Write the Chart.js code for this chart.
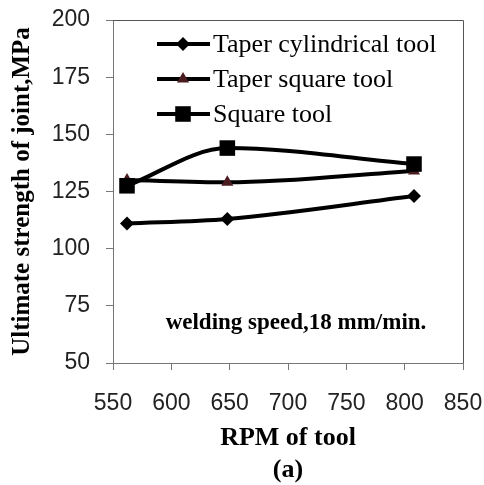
<!DOCTYPE html>
<html>
<head>
<meta charset="utf-8">
<script src="https://cdn.jsdelivr.net/npm/chart.js@4/dist/chart.umd.min.js"></script>
<style>
  html, body { margin: 0; padding: 0; background: #fff; }
  #wrap { width: 484px; height: 485px; }
</style>
</head>
<body>
<div id="wrap"><canvas id="chart1" width="484" height="485"></canvas></div>
<script>
// values
const rpm = [562, 648, 808];
const taperCylindrical = [111, 113, 123];
const taperSquare = [130, 129, 134];
const squareTool = [127.5, 144, 137];
const seriesNames = ["Taper cylindrical tool", "Taper square tool", "Square tool"];
const yTicks = [50, 75, 100, 125, 150, 175, 200];
const xTicks = [550, 600, 650, 700, 750, 800, 850];
const note = "welding speed,18 mm/min.";

function pts(ys) {
    return rpm.map(function (x, i) { return { x: x, y: ys[i] }; });
}

// box round the plot area
const frame = {
    id: "frame",
    afterDraw: function (chart) {
        const a = chart.chartArea, ctx = chart.ctx;
        ctx.save();
        ctx.strokeStyle = "#555";
        ctx.lineWidth = 1;
        ctx.beginPath();
        ctx.moveTo(a.left, a.top + 0.5);
        ctx.lineTo(a.right + 0.5, a.top + 0.5);
        ctx.lineTo(a.right + 0.5, a.bottom);
        ctx.stroke();
        ctx.restore();
    }
};

// legend inside the plot + the welding speed note
const insideText = {
    id: "insideText",
    afterDraw: function (chart) {
        const ctx = chart.ctx;
        const a = chart.chartArea;
        ctx.save();
        chart.data.datasets.forEach(function (ds, i) {
            const y = a.top + 24 + i * 35;
            ctx.strokeStyle = "#000";
            ctx.lineWidth = 4;
            ctx.beginPath();
            ctx.moveTo(a.left + 44, y);
            ctx.lineTo(a.left + 97, y);
            ctx.stroke();
            const cx = a.left + 70;
            ctx.fillStyle = ds.pointBackgroundColor;
            ctx.beginPath();
            if (ds.pointStyle === "rectRot") {
                const r = ds.pointRadius;
                ctx.moveTo(cx, y - r); ctx.lineTo(cx + r, y);
                ctx.lineTo(cx, y + r); ctx.lineTo(cx - r, y);
            } else if (ds.pointStyle === "rect") {
                const s = ds.pointRadius * Math.SQRT1_2;
                ctx.rect(cx - s, y - s, 2 * s, 2 * s);
            } else {
                const r = ds.pointRadius;
                ctx.moveTo(cx, y - r);
                ctx.lineTo(cx + r * 0.87, y + r * 0.5);
                ctx.lineTo(cx - r * 0.87, y + r * 0.5);
            }
            ctx.closePath();
            ctx.fill();
            ctx.fillStyle = "#000";
            ctx.font = "26px 'Liberation Serif'";
            ctx.textAlign = "left";
            ctx.textBaseline = "middle";
            ctx.fillText(ds.label, a.left + 100, y + 1);
        });
        ctx.font = "bold 23px 'Liberation Serif'";
        ctx.textAlign = "center";
        ctx.textBaseline = "middle";
        ctx.fillText(note, 296, 323);
        ctx.restore();
    }
};

const ctx = document.getElementById("chart1").getContext("2d");
const chart = new Chart(ctx, {
    type: "line",
    data: {
        datasets: [
            {
                label: seriesNames[0],
                data: pts(taperCylindrical),
                borderColor: "#000",
                borderWidth: 4,
                pointStyle: "rectRot",
                pointRadius: 7,
                pointBackgroundColor: "#000",
                pointBorderWidth: 0,
                cubicInterpolationMode: "monotone"
            },
            {
                label: seriesNames[1],
                data: pts(taperSquare),
                borderColor: "#000",
                borderWidth: 4,
                pointStyle: "triangle",
                pointRadius: 7,
                pointBackgroundColor: "#4a1c20",
                pointBorderWidth: 0,
                cubicInterpolationMode: "monotone"
            },
            {
                label: seriesNames[2],
                data: pts(squareTool),
                borderColor: "#000",
                borderWidth: 4,
                pointStyle: "rect",
                pointRadius: 11,
                pointBackgroundColor: "#000",
                pointBorderWidth: 0,
                cubicInterpolationMode: "monotone",
                order: -1
            }
        ]
    },
    options: {
        responsive: false,
        animation: false,
        events: [],
        layout: { padding: { left: 0, top: 20, right: 21, bottom: 0 } },
        plugins: { legend: { display: false }, tooltip: { enabled: false } },
        scales: {
            x: {
                type: "linear",
                min: 550,
                max: 850,
                afterBuildTicks: function (s) { s.ticks = xTicks.map(function (v) { return { value: v }; }); },
                afterFit: function (s) { s.height = 122; s.paddingLeft = 0; s.paddingRight = 0; },
                grid: { drawOnChartArea: false, tickLength: 7, color: "#777" },
                border: { color: "#777" },
                ticks: { color: "#222", padding: 20, font: { family: "'Liberation Sans'", size: 23 } },
                title: {
                    display: true,
                    text: ["RPM of tool", "(a)"],
                    color: "#000",
                    padding: { top: 0, bottom: -1 },
                    font: { family: "'Liberation Serif'", size: 26, weight: "bold", lineHeight: 1.22 }
                }
            },
            y: {
                min: 50,
                max: 200,
                afterBuildTicks: function (s) { s.ticks = yTicks.map(function (v) { return { value: v }; }); },
                afterFit: function (s) { s.width = 113; s.paddingTop = 0; s.paddingBottom = 0; },
                grid: { drawOnChartArea: false, tickLength: 7, color: "#777" },
                border: { color: "#777" },
                ticks: { color: "#222", padding: 16, font: { family: "'Liberation Sans'", size: 23 } },
                title: {
                    display: true,
                    text: "Ultimate strength of joint,MPa",
                    color: "#000",
                    padding: { top: 8, bottom: 0 },
                    font: { family: "'Liberation Serif'", size: 25, weight: "bold" }
                }
            }
        }
    },
    plugins: [frame, insideText]
});
</script>
</body>
</html>
